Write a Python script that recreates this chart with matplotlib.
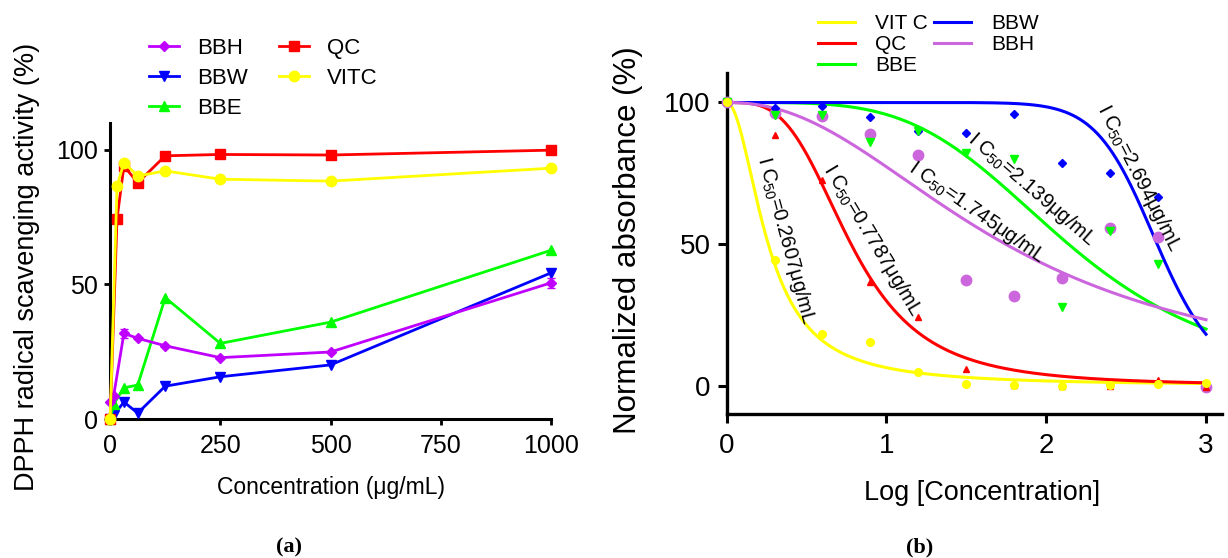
import numpy as np
import matplotlib
matplotlib.use("Agg")
import matplotlib.pyplot as plt

plt.rcParams['font.family'] = ['Liberation Sans', 'DejaVu Sans']
plt.rcParams['mathtext.default'] = 'regular'

# ---------------- Panel (a) data ----------------
conc_bbh = [0, 7.8, 31.25, 62.5, 125, 250, 500, 1000]
bbh_a = [6.5, 8.5, 31.8, 30.0, 27.2, 22.8, 24.9, 50.6]
bbh_err = [0, 0, 1.6, 0, 0, 0, 0, 1.9]
conc_bbw = [0, 7.8, 31.25, 62.5, 125, 250, 500, 1000]
bbw_a = [0, 1.4, 6.3, 2.2, 12.2, 15.7, 20.1, 54.3]
conc_bbe = [0, 7.8, 31.25, 62.5, 125, 250, 500, 1000]
bbe_a = [0, 5.5, 11.6, 12.6, 45.1, 28.1, 36.0, 62.7]
conc_std = [0, 15.6, 31.25, 62.5, 125, 250, 500, 1000]
qc_a = [0, 74.4, 94.0, 87.8, 97.8, 98.3, 98.1, 99.9]
vitc_a = [0, 86.6, 95.3, 90.3, 92.2, 89.1, 88.4, 93.2]

# ---------------- Panel (b) data ----------------
logc = [0, 0.3, 0.6, 0.9, 1.2, 1.5, 1.8, 2.1, 2.4, 2.7, 3.0]
vitc_b = [100, 44.5, 18.4, 15.3, 4.7, 0.7, 0.2, -0.2, 0.4, 0.7, 0.9]
qc_b = [100, 88.6, 72.7, 36.5, 24.2, 5.9, 0.4, 0.0, 0.0, 1.9, -0.5]
bbe_b = [100, 95.6, 95.6, 85.9, 90.1, 82.1, 80.0, 27.8, 54.5, 43.0]
bbw_b = [100, 98.0, 98.6, 95.0, 89.8, 89.2, 96.0, 78.6, 75.0, 66.5]
bbh_b = [100, 96.2, 95.3, 88.8, 81.3, 37.2, 31.8, 38.0, 55.6, 52.5, -0.5]

# fitted curve parameters (IC50 on log axis, Hill slope)
fit_names = ['VIT C', 'QC', 'BBE', 'BBW', 'BBH']
fit_ic50 = [0.2607, 0.7787, 2.139, 2.694, 1.745]
fit_hill = [2.0, 3.4, 4.1, 14.0, 2.2]
fit_colors = ['#FFFF00', '#FF0000', '#00FF00', '#0000FF', '#CC66DD']

YEL, RED, GRN, BLU, MAG = '#FFFF00', '#FF0000', '#00FF00', '#0000FF', '#C000FF'

fig = plt.figure(figsize=(12.28, 5.58), dpi=100)

# ================= Panel (a) =================
axa = fig.add_axes([0.0897, 0.2491, 0.359, 0.5305])
lw = 2.0
h_bbh = axa.errorbar(conc_bbh, bbh_a, yerr=bbh_err, color=MAG, marker='D', ms=5, lw=lw,
                     capsize=3, elinewidth=1.5, clip_on=False, zorder=3)
h_bbw, = axa.plot(conc_bbw, bbw_a, color=BLU, marker='v', ms=7, lw=lw, clip_on=False, zorder=3)
h_bbe, = axa.plot(conc_bbe, bbe_a, color=GRN, marker='^', ms=7, lw=lw, clip_on=False, zorder=3)
h_qc, = axa.plot(conc_std, qc_a, color=RED, marker='s', ms=6.5, lw=lw, clip_on=False, zorder=4)
h_vitc, = axa.plot(conc_std, vitc_a, color=YEL, marker='o', ms=7.5, lw=lw, clip_on=False, zorder=5)

axa.set_xlim(0, 1000)
axa.set_ylim(0, 110)
axa.set_xticks([0, 250, 500, 750, 1000])
axa.set_yticks([0, 50, 100])
for s in ['top', 'right']:
    axa.spines[s].set_visible(False)
for s in ['left', 'bottom']:
    axa.spines[s].set_linewidth(2.2)
axa.tick_params(direction='out', length=4.5, width=2, labelsize=18)
axa.tick_params(axis='x', pad=6)
axa.tick_params(axis='y', pad=4.5)
axa.set_xlabel('Concentration (μg/mL)', fontsize=16.5)
axa.set_ylabel('DPPH radical scavenging activity (%)', fontsize=19.5)
axa.xaxis.label.set_verticalalignment('center')
axa.yaxis.label.set_verticalalignment('center')
axa.xaxis.set_label_coords(0.502, -0.233)
axa.yaxis.set_label_coords(-0.189, 0.5135)

leg_a_handles = [h_bbh.lines[0], h_bbw, h_bbe, h_qc, h_vitc]
leg_a_labels = ['BBH', 'BBW', 'BBE', 'QC', 'VITC']
fig.legend(handles=leg_a_handles, labels=leg_a_labels,
           loc='upper left', bbox_to_anchor=(148.5 / 1228, 1 - 38 / 558),
           ncol=2, frameon=False, fontsize=16, borderpad=0, borderaxespad=0,
           handlelength=1.37, handletextpad=0.8, columnspacing=1.4,
           labelspacing=0.4)

# ================= Panel (b) =================
axb = fig.add_axes([0.5917, 0.2581, 0.4034, 0.6115])
xx = np.linspace(0, 3, 400)
handles = []
for name, ic, h, c in zip(fit_names, fit_ic50, fit_hill, fit_colors):
    yy = 100.0 / (1.0 + (xx / ic) ** h)
    ln, = axb.plot(xx, yy, color=c, lw=2.2, label=name, zorder=2)
    handles.append(ln)

axb.plot(logc, bbh_b, 'o', color='#CC66DD', ms=7.5, ls='none', zorder=3, clip_on=False)
axb.plot(logc[:len(bbw_b)], bbw_b, 'D', color=BLU, ms=3.8, ls='none', zorder=3, clip_on=False)
axb.plot(logc[:len(bbe_b)], bbe_b, 'v', color=GRN, ms=5.5, ls='none', zorder=3, clip_on=False)
axb.plot(logc, qc_b, '^', color=RED, ms=5, ls='none', zorder=3, clip_on=False)
axb.plot(logc, vitc_b, 'o', color=YEL, ms=5.5, ls='none', zorder=4, clip_on=False)

axb.set_xlim(0, 3.1)
axb.set_ylim(-10, 110.5)
axb.set_xticks([0, 1, 2, 3])
axb.set_yticks([0, 50, 100])
for s in ['top', 'right']:
    axb.spines[s].set_visible(False)
for s in ['left', 'bottom']:
    axb.spines[s].set_linewidth(2.4)
axb.tick_params(direction='out', length=6.5, width=2.2, labelsize=20)
axb.tick_params(axis='x', pad=7)
axb.tick_params(axis='y', pad=5)
axb.set_xlabel('Log [Concentration]', fontsize=19.5)
axb.set_ylabel('Normalized absorbance (%)', fontsize=22.5)
axb.xaxis.label.set_verticalalignment('center')
axb.yaxis.label.set_verticalalignment('center')
axb.xaxis.set_label_coords(0.5155, -0.2315)
axb.yaxis.set_label_coords(-0.199, 0.51)

# IC50 annotations
ann_text = ['I C$_{50}$=0.2607μg/mL', 'I C$_{50}$=0.7787μg/mL', 'I C$_{50}$=1.745μg/mL',
            'I C$_{50}$=2.139μg/mL', 'I C$_{50}$=2.694μg/mL']
ann_x = [0.372, 0.91, 1.567, 1.911, 2.58]
ann_y = [51.2, 51.2, 61.4, 69.5, 73.4]
ann_rot = [-74.7, -59.0, -35.1, -40.8, -63.0]
for t, x, y, r in zip(ann_text, ann_x, ann_y, ann_rot):
    axb.text(x, y, t, rotation=r, rotation_mode='anchor', ha='center', va='center',
             fontsize=14.5, zorder=5)

fig.legend(handles=handles, labels=fit_names,
           loc='upper left', bbox_to_anchor=(818 / 1228, 1 - 14 / 558),
           ncol=2, frameon=False, fontsize=15, borderpad=0, borderaxespad=0,
           handlelength=1.78, handletextpad=0.96, columnspacing=0.3,
           labelspacing=0.1)

# captions
fig.text(289 / 1228, 1 - 547 / 558, '(a)', ha='center', va='center', fontsize=16,
         fontweight='bold', family=['Liberation Serif', 'DejaVu Serif'])
fig.text(920 / 1228, 1 - 547 / 558, '(b)', ha='center', va='center', fontsize=16,
         fontweight='bold', family=['Liberation Serif', 'DejaVu Serif'])

fig.savefig('out.png', dpi=100)
